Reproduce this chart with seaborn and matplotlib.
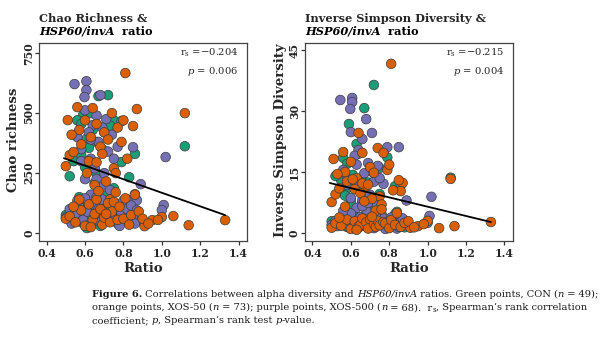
import matplotlib
matplotlib.use("Agg")
import matplotlib.pyplot as plt
import pandas as pd
import seaborn as sns

# ---- data: HSP60/invA ratio with Chao richness and inverse Simpson per sample ----
con_ratio = [0.67, 0.72, 1.12, 0.59, 0.63, 0.56, 0.58, 0.64, 0.70, 0.75,
             0.61, 0.55, 0.66, 0.58, 0.60, 0.52, 0.79, 0.83, 0.65, 0.75,
             0.69, 0.73, 0.54, 0.86, 0.62, 0.71, 0.62, 0.58, 0.61, 0.78,
             0.88, 0.66, 0.53, 0.74, 0.82, 0.69, 0.56, 0.64, 0.84, 0.76,
             0.50, 0.68, 0.60, 0.72, 0.57, 0.85, 0.66, 0.77, 0.63]
con_chao = [571, 575, 362, 492, 500, 470, 455, 430, 420, 470,
            395, 410, 380, 325, 275, 237, 296, 233, 208, 187,
            350, 448, 300, 330, 355, 117, 117, 46, 21, 75,
            54, 90, 60, 55, 95, 70, 85, 40, 130, 110,
            75, 30, 105, 160, 150, 60, 250, 40, 65]
con_invsimp = [30.7, 36.4, 13.6, 26.8, 21.9, 18.5, 17.0, 19.5, 15.2, 16.0,
               14.3, 12.9, 13.1, 11.0, 8.2, 14.0, 18.6, 11.5, 10.9, 9.6,
               12.4, 13.8, 10.2, 11.8, 12.0, 3.7, 4.1, 1.5, 1.9, 2.4,
               1.4, 2.2, 2.0, 3.1, 2.7, 1.8, 3.5, 1.3, 5.2, 4.6,
               2.9, 2.1, 7.2, 6.8, 9.2, 1.6, 7.5, 2.3, 2.8]

xos50_ratio = [0.81, 1.12, 1.33, 0.95, 1.00, 1.06, 1.14, 0.87, 0.85, 0.56,
               0.64, 0.51, 0.50, 0.52, 0.54, 0.86, 0.91, 0.60, 0.66, 0.74,
               0.77, 0.70, 0.72, 0.63, 0.58, 0.68, 0.79, 0.62, 0.75, 0.80,
               0.57, 0.66, 0.71, 0.76, 0.53, 0.65, 0.73, 0.69, 0.82, 0.61,
               0.50, 0.52, 0.55, 0.58, 0.60, 0.62, 0.64, 0.65, 0.66, 0.68,
               0.69, 0.70, 0.72, 0.73, 0.74, 0.75, 0.77, 0.78, 0.80, 0.81,
               0.83, 0.84, 0.86, 0.88, 0.90, 0.93, 0.98, 0.63, 0.57, 0.71,
               0.76, 0.67, 0.54]
xos50_chao = [667, 500, 54, 54, 67, 71, 33, 517, 446, 525,
              521, 471, 279, 325, 338, 162, 29, 470, 455, 500,
              440, 420, 390, 400, 370, 360, 380, 300, 270, 470,
              430, 295, 215, 250, 410, 200, 140, 330, 310, 250,
              60, 70, 45, 95, 30, 120, 55, 80, 140, 100,
              35, 65, 125, 45, 90, 130, 55, 110, 60, 145,
              35, 75, 160, 90, 60, 40, 55, 25, 140, 80,
              170, 175, 110]
xos50_invsimp = [41.6, 13.3, 2.7, 1.7, 3.0, 1.2, 1.7, 12.3, 13.0, 19.9,
                 24.6, 18.2, 7.6, 9.5, 11.0, 10.3, 1.3, 17.5, 19.7, 20.9,
                 19.7, 16.2, 14.8, 13.5, 12.7, 11.5, 15.5, 10.8, 9.0, 16.8,
                 15.0, 12.2, 8.4, 7.0, 14.5, 9.8, 5.5, 11.9, 10.5, 13.2,
                 1.3, 2.4, 1.8, 3.3, 1.0, 2.9, 1.6, 2.0, 3.6, 2.6,
                 1.1, 3.4, 2.2, 1.5, 3.0, 1.9, 2.7, 2.4, 1.2, 3.2,
                 2.0, 4.9, 1.5, 2.5, 2.9, 1.4, 2.2, 0.8, 6.5, 4.0,
                 5.8, 7.8, 3.8]

xos500_ratio = [0.545, 0.607, 0.607, 0.597, 0.68, 0.60, 0.71, 0.79, 1.02, 1.01,
                1.00, 0.89, 0.83, 0.87, 0.66, 0.64, 0.69, 0.62, 0.56, 0.74,
                0.67, 0.58, 0.72, 0.63, 0.65, 0.70, 0.60, 0.77, 0.85, 0.66,
                0.73, 0.63, 0.68, 0.50, 0.53, 0.55, 0.57, 0.59, 0.61, 0.62,
                0.64, 0.65, 0.67, 0.68, 0.70, 0.71, 0.72, 0.74, 0.75, 0.77,
                0.79, 0.80, 0.81, 0.82, 0.84, 0.85, 0.86, 0.87, 0.60, 0.66,
                0.56, 0.78, 0.69, 0.58, 0.63, 0.75, 0.52, 0.73]
xos500_chao = [621, 633, 596, 567, 575, 512, 475, 467, 317, 117,
               96, 204, 137, 137, 490, 450, 440, 420, 400, 410,
               380, 350, 340, 310, 270, 250, 225, 360, 358, 225,
               180, 160, 190, 65, 40, 80, 110, 55, 90, 35,
               120, 60, 100, 45, 75, 130, 50, 95, 60, 120,
               85, 135, 50, 100, 115, 70, 40, 95, 145, 150,
               135, 30, 140, 300, 390, 310, 100, 115]
xos500_invsimp = [32.7, 33.2, 32.2, 30.5, 28.0, 24.8, 24.6, 21.1, 8.9, 4.2,
                  2.5, 8.0, 4.6, 3.2, 23.1, 20.4, 17.2, 19.0, 15.5, 16.5,
                  14.7, 13.3, 12.6, 11.3, 10.6, 9.4, 8.6, 12.1, 21.1, 8.1,
                  7.3, 6.2, 5.7, 2.0, 1.7, 2.6, 3.0, 1.4, 2.3, 2.8,
                  1.9, 3.9, 2.4, 1.6, 3.3, 2.0, 1.2, 2.9, 4.3, 3.6,
                  1.8, 2.6, 3.8, 2.2, 1.1, 1.5, 2.8, 3.6, 4.8, 6.6,
                  5.4, 1.0, 7.4, 11.8, 16.8, 13.5, 3.0, 4.4]

# fitted trend lines (end points of the fit over the observed ratio range)
fit_ratio = [0.49, 1.33]
fit_chao = [312, 75]
fit_invsimp = [12.3, 2.7]

stats_chao = ("\u22120.204", "0.006")
stats_invsimp = ("\u22120.215", "0.004")

group_colors = {"CON": "#1b9e77", "XOS-50": "#d95f02", "XOS-500": "#7570b3"}

# ---- assemble long table (draw order: CON, XOS-500, XOS-50) ----
frames = []
for name, r, c, s in [("CON", con_ratio, con_chao, con_invsimp),
                      ("XOS-500", xos500_ratio, xos500_chao, xos500_invsimp),
                      ("XOS-50", xos50_ratio, xos50_chao, xos50_invsimp)]:
    frames.append(pd.DataFrame({"group": name, "ratio": r, "chao": c, "invsimp": s}))
df = pd.concat(frames, ignore_index=True)

sns.set_theme(style="white")
plt.rcParams["font.family"] = ["DejaVu Serif"]
plt.rcParams["mathtext.fontset"] = "custom"
plt.rcParams["mathtext.rm"] = "DejaVu Serif"
plt.rcParams["mathtext.it"] = "DejaVu Serif:italic"
plt.rcParams["mathtext.bf"] = "DejaVu Serif:bold"

W, H = 600, 339
fig = plt.figure(figsize=(W / 100, H / 100), dpi=100)
fig.patch.set_facecolor("white")
renderer = fig.canvas.get_renderer()


def text_runs(x, y, parts, size, family="DejaVu Serif", color="#1a1a1a"):
    """Write a line made of differently styled pieces, left to right, on one baseline."""
    cur = x
    for txt, style in parts:
        kw = dict(fontsize=size, family=family, color=color, ha="left", va="baseline")
        dy = 0.0
        if style == "b":
            kw["fontweight"] = "bold"
        elif style == "i":
            kw["fontstyle"] = "italic"
        elif style == "bi":
            kw["fontweight"] = "bold"
            kw["fontstyle"] = "italic"
        elif style == "sub":
            kw["fontsize"] = size * 0.7
            dy = -2.0 / H
        t = fig.text(cur, y + dy, txt, **kw)
        cur += t.get_window_extent(renderer).width / W
    return cur


axes_pos = [[0.065, 0.289, 0.347, 0.584], [0.508, 0.289, 0.347, 0.584]]
panels = [
    dict(col="chao", fit=fit_chao, ylim=(-33, 792), yticks=[0, 250, 500, 750],
         ylabel="Chao richness", title="Chao Richness &", stats=stats_chao,
         ylab_x=-0.09),
    dict(col="invsimp", fit=fit_invsimp, ylim=(-1.97, 46.7), yticks=[0, 15, 30, 45],
         ylabel="Inverse Simpson Diversity", title="Inverse Simpson Diversity &",
         stats=stats_invsimp, ylab_x=-0.085),
]

for pos, p in zip(axes_pos, panels):
    ax = fig.add_axes(pos)
    sns.scatterplot(data=df, x="ratio", y=p["col"], hue="group", palette=group_colors,
                    s=48, edgecolor="#3c3c3c", linewidth=0.5, alpha=1.0,
                    legend=False, ax=ax, zorder=2)
    sns.lineplot(x=fit_ratio, y=p["fit"], color="black", linewidth=1.3, ax=ax, zorder=3)

    ax.set_xlim(0.36, 1.445)
    ax.set_ylim(*p["ylim"])
    ax.set_xticks([0.4, 0.6, 0.8, 1.0, 1.2, 1.4])
    ax.set_xticklabels(["0.4", "0.6", "0.8", "1.0", "1.2", "1.4"])
    ax.set_yticks(p["yticks"])
    ax.set_yticklabels([str(v) for v in p["yticks"]], rotation=90, va="center")
    ax.tick_params(axis="both", which="major", direction="out", length=3, width=0.9,
                   color="#333333", labelsize=7.8, bottom=True, left=True)
    ax.tick_params(axis="y", pad=0.5)
    ax.tick_params(axis="x", pad=2)
    for lab in ax.get_xticklabels() + ax.get_yticklabels():
        lab.set_fontweight("bold")
    for sp in ax.spines.values():
        sp.set_color("#444444")
        sp.set_linewidth(0.9)

    ax.set_xlabel("Ratio", fontsize=9.5, fontweight="bold")
    ax.set_ylabel(p["ylabel"], fontsize=9.5, fontweight="bold")
    ax.xaxis.set_label_coords(0.5, -0.105)
    ax.yaxis.set_label_coords(p["ylab_x"], 0.51)

    r_txt, p_txt = p["stats"]
    ax.text(0.957, 0.95, r"r$_\mathregular{s}$ =" + r_txt, transform=ax.transAxes,
            ha="right", va="center", fontsize=7.2)
    ax.text(0.957, 0.855, r"$p$ = " + p_txt, transform=ax.transAxes,
            ha="right", va="center", fontsize=7.2)

    # two-line panel title
    x0 = pos[0]
    fig.text(x0, 0.935, p["title"], fontsize=8.2, fontweight="bold", ha="left",
             va="baseline")
    text_runs(x0, 0.897, [("HSP60/invA", "bi"), ("  ratio", "b")], 8.2,
              color="black")

# ---- caption ----
cap_size = 7.1
cap_x = 0.153
text_runs(cap_x, 0.124, [
    ("Figure 6.", "b"),
    (" Correlations between alpha diversity and ", ""),
    ("HSP60/invA", "i"),
    (" ratios. Green points, CON (", ""), ("n", "i"), (" = 49);", ""),
], cap_size)
text_runs(cap_x, 0.085, [
    ("orange points, XOS-50 (", ""), ("n", "i"), (" = 73); purple points, XOS-500 (", ""),
    ("n", "i"), (" = 68).  r", ""), ("s", "sub"),
    (", Spearman\u2019s rank correlation", ""),
], cap_size)
text_runs(cap_x, 0.047, [
    ("coefficient; ", ""), ("p", "i"), (", Spearman\u2019s rank test ", ""),
    ("p", "i"), ("-value.", ""),
], cap_size)

fig.savefig("out.png", dpi=100, facecolor="white")
